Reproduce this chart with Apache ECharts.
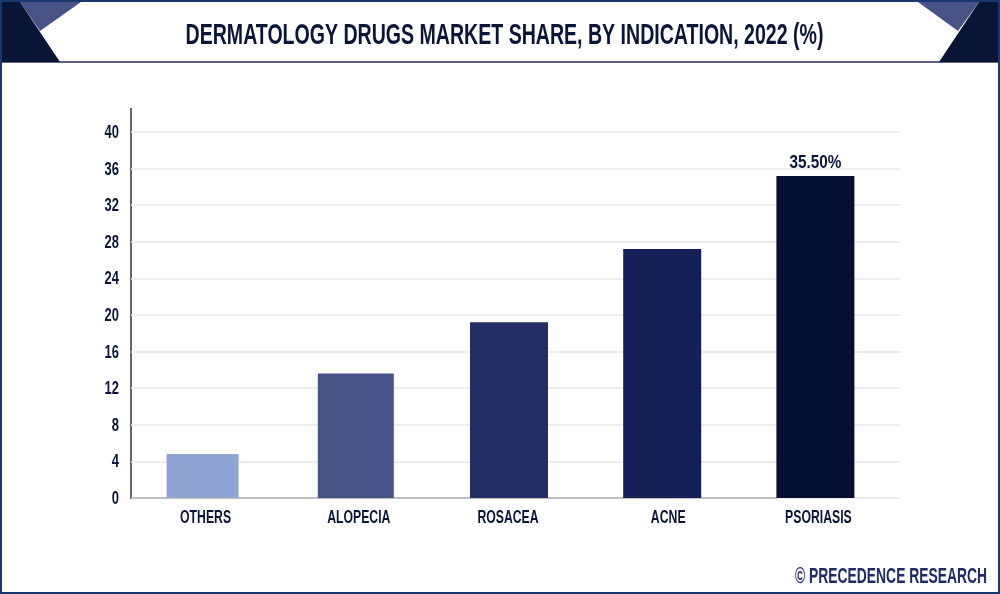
<!DOCTYPE html>
<html><head><meta charset="utf-8">
<style>html,body{margin:0;padding:0;background:#fff}#c{width:1000px;height:594px}</style>
<script src="https://cdn.jsdelivr.net/npm/echarts@6/dist/echarts.min.js"></script></head>
<body><div id="c"></div>
<script>
const categories = ['OTHERS','ALOPECIA','ROSACEA','ACNE','PSORIASIS'];
const values = [4.8, 13.6, 19.2, 27.2, 35.2];
const barColors = ['#8fa3d4','#475286','#232f66','#142057','#040f33'];
const valueLabels = ['', '', '', '', '35.50%'];
const yTicks = [0,4,8,12,16,20,24,28,32,36,40];
const INK = '#0b1538';
const FONT = '"Liberation Sans","Arimo",sans-serif';
const chart = echarts.init(document.getElementById('c'), null, {renderer:'canvas'});

// groups of bars drawn at the same width, each on its own hidden x axis
const widthGroups = [{w:72, idx:[0]}, {w:76, idx:[1]}, {w:78, idx:[2,3,4]}];
const xAxes = widthGroups.map((g,i)=>({
  type:'category', gridIndex:1, data:categories,
  show: i===0,
  axisLine:{show:false}, axisTick:{show:false}, splitLine:{show:false},
  axisLabel:{show:i===0, color:INK, fontFamily:FONT, fontWeight:'bold', fontSize:18, margin:11}
}));
const series = widthGroups.map((g,i)=>({
  type:'bar', xAxisIndex:i+1, yAxisIndex:1, barWidth:g.w, animation:false,
  data: values.map((v,k)=> g.idx.includes(k) ? {
    value:v, itemStyle:{color:barColors[k]},
    label:{show:!!valueLabels[k], position:'top', distance:4, formatter:valueLabels[k],
      color:INK, fontFamily:FONT, fontWeight:'bold', fontSize:18}
  } : null)
}));

chart.setOption({
  animation:false, backgroundColor:'#fff',
  grid:[
    {left:131, top:132, width:769, height:366},
    {left:126, top:132, width:766, height:366}
  ],
  xAxis:[
    {type:'category', gridIndex:0, data:categories, axisLabel:{show:false}, axisTick:{show:false},
     axisLine:{show:false}},
    ...xAxes
  ],
  yAxis:[
    {type:'value', gridIndex:0, min:0, max:40, interval:4,
     axisLine:{show:false}, axisTick:{show:false},
     axisLabel:{color:INK, fontFamily:FONT, fontWeight:'bold', fontSize:18, margin:12,
       formatter:v=>yTicks.includes(v)?String(v):''},
     splitLine:{show:true, lineStyle:{color:'#e6e6ec', width:1.5}}},
    {type:'value', gridIndex:1, min:0, max:40, interval:4, show:false, splitLine:{show:false}}
  ],
  series,
  graphic:[
    {type:'rect', silent:true, z:-1, shape:{x:1,y:1,width:998,height:592}, style:{fill:'transparent', stroke:'#17376f', lineWidth:2}},
    {type:'line', silent:true, shape:{x1:2,y1:62,x2:998,y2:62}, style:{stroke:'#2a2a5e', lineWidth:1.5}},
    {type:'polygon', silent:true, shape:{points:[[20,2],[81,2],[40,31]]}, style:{fill:'#475286'}},
    {type:'polygon', silent:true, shape:{points:[[2,2],[20,2],[60,62],[2,62]]}, style:{fill:'#081536'}},
    {type:'polygon', silent:true, shape:{points:[[918,2],[979,2],[958,31]]}, style:{fill:'#475286'}},
    {type:'polygon', silent:true, shape:{points:[[979,2],[998,2],[998,62],[939,62]]}, style:{fill:'#081536'}},
    {type:'line', silent:true, z:-1, shape:{x1:131,y1:108,x2:131,y2:499}, style:{stroke:'#333', lineWidth:1.5}},
    {type:'line', silent:true, z:-1, shape:{x1:131,y1:498,x2:777,y2:498}, style:{stroke:'#4a4a4a', lineWidth:2}},
    {type:'text', silent:true, x:504.5, y:36, scaleX:0.652, style:{text:'DERMATOLOGY DRUGS MARKET SHARE, BY INDICATION, 2022 (%)', fill:INK,
      font:'bold 30px '+FONT, textAlign:'center', textVerticalAlign:'middle'}},
    {type:'text', silent:true, x:987, y:577, scaleX:0.63, style:{text:'© PRECEDENCE RESEARCH', fill:'#1f2a66',
      font:'bold 22px '+FONT, textAlign:'right', textVerticalAlign:'middle'}}
  ]
});

// narrow the axis and value labels: the reference uses a condensed face that is not installed
const catNudge = {OTHERS:3, ALOPECIA:3, ROSACEA:-1, ACNE:6, PSORIASIS:3};
const zr = chart.getZr();
zr.storage.traverse(el=>{
  if (el.type==='text' && el.style && el.style.text!=null) {
    const t = String(el.style.text);
    if (t in catNudge) { el.scaleX=0.68; el.x+=catNudge[t]; el.markRedraw(); }
    else if (/^\d+$/.test(t)) { el.scaleX=0.72; el.y+=1; el.markRedraw(); }
  }
  const tc = el.getTextContent && el.getTextContent();
  if (tc) { tc.scaleX=0.85; tc.markRedraw(); }
});
zr.refreshImmediately();
</script></body></html>
